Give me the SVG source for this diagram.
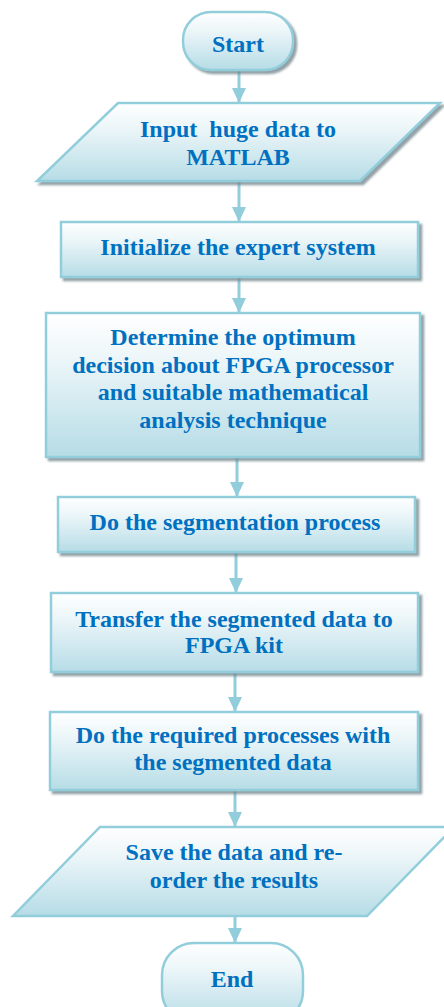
<svg xmlns="http://www.w3.org/2000/svg" width="444" height="1007" viewBox="0 0 444 1007">
<defs>
<linearGradient id="g" x1="0" y1="0" x2="0" y2="1">
<stop offset="0" stop-color="#FFFFFF"/>
<stop offset="0.35" stop-color="#EAF5F8"/>
<stop offset="1" stop-color="#B6DCE6"/>
</linearGradient>
<filter id="sh" x="-10%" y="-10%" width="125%" height="130%">
<feDropShadow dx="3" dy="3" stdDeviation="1.2" flood-color="#6E8389" flood-opacity="0.75"/>
</filter>
<marker id="ah" viewBox="0 0 15 14" refX="15" refY="7" markerWidth="15" markerHeight="14" markerUnits="userSpaceOnUse" orient="auto">
<path d="M0,0 L15,7 L0,14 Z" fill="#92CDDC"/>
</marker>
</defs>
<style>
.n{fill:url(#g);stroke:#92CDDC;stroke-width:2.5}
.s{filter:url(#sh)}
.t{font-family:'Liberation Serif','DejaVu Serif',serif;font-weight:700;font-size:24px;fill:#0070C0;text-anchor:middle;white-space:pre}
.c{stroke:#92CDDC;stroke-width:3;fill:none}
</style>
<g id="connectors">
<line class="c" x1="239" y1="71" x2="239" y2="103" marker-end="url(#ah)"/>
<line class="c" x1="239" y1="182" x2="239" y2="222" marker-end="url(#ah)"/>
<line class="c" x1="239" y1="278" x2="239" y2="313" marker-end="url(#ah)"/>
<line class="c" x1="237" y1="458" x2="237" y2="497" marker-end="url(#ah)"/>
<line class="c" x1="236" y1="553" x2="236" y2="593" marker-end="url(#ah)"/>
<line class="c" x1="235" y1="673" x2="235" y2="712" marker-end="url(#ah)"/>
<line class="c" x1="235" y1="791" x2="235" y2="827" marker-end="url(#ah)"/>
<line class="c" x1="235" y1="917" x2="235" y2="943" marker-end="url(#ah)"/>
</g>
<g id="start">
<rect class="n s" x="183" y="12" width="110" height="58" rx="28" ry="28"/>
<text class="t" x="238" y="52">Start</text>
</g>
<g id="input">
<polygon class="n s" points="118,103 440,103 360,181 37,181"/>
<text class="t" x="238" y="137">Input  huge data to</text>
<text class="t" x="238" y="165">MATLAB</text>
</g>
<g id="init">
<rect class="n s" x="61" y="222" width="357" height="55"/>
<text class="t" x="238" y="255">Initialize the expert system</text>
</g>
<g id="determine">
<rect class="n s" x="46" y="313" width="374" height="144"/>
<text class="t" x="233" y="345">Determine the optimum</text>
<text class="t" x="233" y="373">decision about FPGA processor</text>
<text class="t" x="233" y="400">and suitable mathematical</text>
<text class="t" x="233" y="428">analysis technique</text>
</g>
<g id="segment">
<rect class="n s" x="58" y="497" width="357" height="55"/>
<text class="t" x="235" y="530">Do the segmentation process</text>
</g>
<g id="transfer">
<rect class="n s" x="51" y="593" width="367" height="79"/>
<text class="t" x="234" y="627">Transfer the segmented data to</text>
<text class="t" x="234" y="653">FPGA kit</text>
</g>
<g id="process">
<rect class="n s" x="50" y="712" width="368" height="78"/>
<text class="t" x="233" y="743">Do the required processes with</text>
<text class="t" x="233" y="770">the segmented data</text>
</g>
<g id="save">
<polygon class="n" points="100,827 454,827 367,916 13,916"/>
<text class="t" x="234" y="860">Save the data and re-</text>
<text class="t" x="234" y="888">order the results</text>
</g>
<g id="end">
<rect class="n" x="162" y="943" width="141" height="80" rx="32" ry="32"/>
<text class="t" x="232" y="987">End</text>
</g>
</svg>
